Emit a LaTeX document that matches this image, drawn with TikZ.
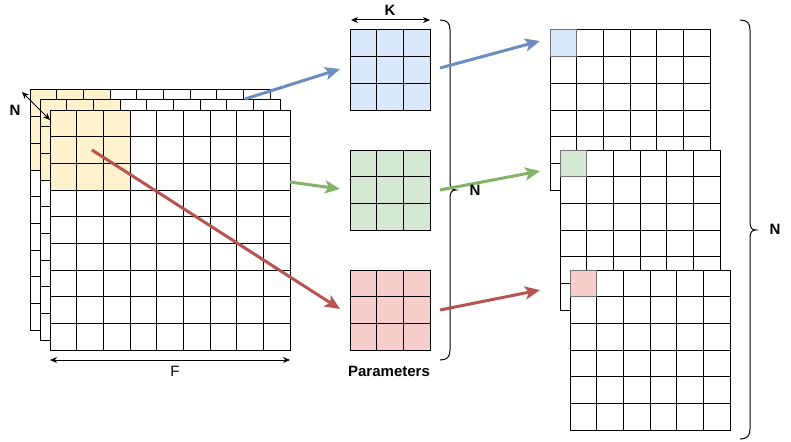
\documentclass[tikz,border=0pt]{standalone}
\usepackage{fontspec}
\setmainfont{Liberation Sans}
\usetikzlibrary{arrows.meta}
\definecolor{bluef}{HTML}{DAE8FC}
\definecolor{bluel}{HTML}{6C8EBF}
\definecolor{greenf}{HTML}{D5E8D4}
\definecolor{greenl}{HTML}{82B366}
\definecolor{redf}{HTML}{F8CECC}
\definecolor{redl}{HTML}{B85450}
\definecolor{yellowf}{HTML}{FFF2CC}
\newcommand\sqgrid[4]{%
  \draw[gl] (#1,#2) rectangle ++({#3*26.6667},{#3*26.6667});
  \foreach \k in {1,...,#4}{%
    \draw[gl] ({#1+\k*26.6667},#2) -- ++(0,{#3*26.6667});
    \draw[gl] (#1,{#2+\k*26.6667}) -- ++({#3*26.6667},0);
  }}
\begin{document}
\begin{tikzpicture}[x=1pt,y=-1pt,
  gl/.style={line width=1pt,black},
  arr/.style={line width=3pt,-{Stealth[length=15pt,width=13pt,inset=3.5pt]}},
  dim/.style={line width=1pt,{Stealth[length=7pt,width=6pt]}-{Stealth[length=7pt,width=6pt]}},
  lbl/.style={font=\fontsize{15}{17}\selectfont\bfseries,inner sep=0pt},
  lblr/.style={font=\fontsize{15}{17}\selectfont,inner sep=0pt},
  hl/.style={draw=black!55,line width=1pt}]
\useasboundingbox (0,0) rectangle (791,441);
% left stack
\fill[white] (30,90) rectangle ++(240,240);
\fill[yellowf] (30,90) rectangle ++(80,80);
\sqgrid{30}{90}{9}{8}
\fill[white] (40,100) rectangle ++(240,240);
\fill[yellowf] (40,100) rectangle ++(80,80);
\sqgrid{40}{100}{9}{8}
\fill[white] (50,110) rectangle ++(240,240);
\fill[yellowf] (50,110) rectangle ++(80,80);
\sqgrid{50}{110}{9}{8}
% kernels
\fill[bluef] (350,30) rectangle ++(80,80);
\sqgrid{350}{30}{3}{2}
\fill[greenf] (350,150) rectangle ++(80,80);
\sqgrid{350}{150}{3}{2}
\fill[redf] (350,270) rectangle ++(80,80);
\sqgrid{350}{270}{3}{2}
% right outputs
\fill[white] (550,30) rectangle ++(160,160);
\sqgrid{550}{30}{6}{5}
\filldraw[fill=bluef,hl] (550,30) rectangle ++(26.6667,26.6667);
\fill[white] (560,150) rectangle ++(160,160);
\sqgrid{560}{150}{6}{5}
\filldraw[fill=greenf,hl] (560,150) rectangle ++(26.6667,26.6667);
\fill[white] (570,270) rectangle ++(160,160);
\sqgrid{570}{270}{6}{5}
\filldraw[fill=redf,hl] (570,270) rectangle ++(26.6667,26.6667);
% braces
\draw[gl] (440,20) .. controls (447,20) and (450,23) .. (450,30) -- (450,182)
  .. controls (450,188) and (452,190) .. (456,190)
  .. controls (452,190) and (450,192) .. (450,198) -- (450,350)
  .. controls (450,357) and (447,360) .. (440,360);
\draw[gl] (740,20) .. controls (747,20) and (750,23) .. (750,30) -- (750,222)
  .. controls (750,228) and (752,230) .. (756,230)
  .. controls (752,230) and (750,232) .. (750,238) -- (750,429)
  .. controls (750,436) and (747,439) .. (740,439);
% arrow endpoints
\coordinate (b1s) at (245,99);  \coordinate (b1e) at (340,69);
\coordinate (b2s) at (440,68);  \coordinate (b2e) at (540,41);
\coordinate (g1s) at (290,182); \coordinate (g1e) at (340,189);
\coordinate (g2s) at (440,190); \coordinate (g2e) at (540,171);
\coordinate (r1s) at (92,150);  \coordinate (r1e) at (340,309);
\coordinate (r2s) at (440,310); \coordinate (r2e) at (540,290);
\draw[arr,bluel] (b1s) -- (b1e);
\draw[arr,bluel] (b2s) -- (b2e);
\draw[arr,greenl] (g1s) -- (g1e);
\draw[arr,greenl] (g2s) -- (g2e);
\draw[arr,redl] (r1s) -- (r1e);
\draw[arr,redl] (r2s) -- (r2e);
% dimension arrows
\coordinate (na) at (22,92); \coordinate (nb) at (50,120);
\draw[dim] (na) -- (nb);
\coordinate (ka) at (351,20); \coordinate (kb) at (430,20);
\draw[dim] (ka) -- (kb);
\coordinate (fa) at (50,360); \coordinate (fb) at (290,360);
\draw[dim] (fa) -- (fb);
% labels
\node[lbl] (nl) at (15,110) {N};
\node[lbl] (kl) at (390,10) {K};
\node[lblr] (fl) at (175,371) {F};
\node[lbl] (pl) at (389,371) {Parameters};
\node[lbl] (nm) at (475,190) {N};
\node[lbl] (nr) at (775,229) {N};
\end{tikzpicture}
\end{document}
